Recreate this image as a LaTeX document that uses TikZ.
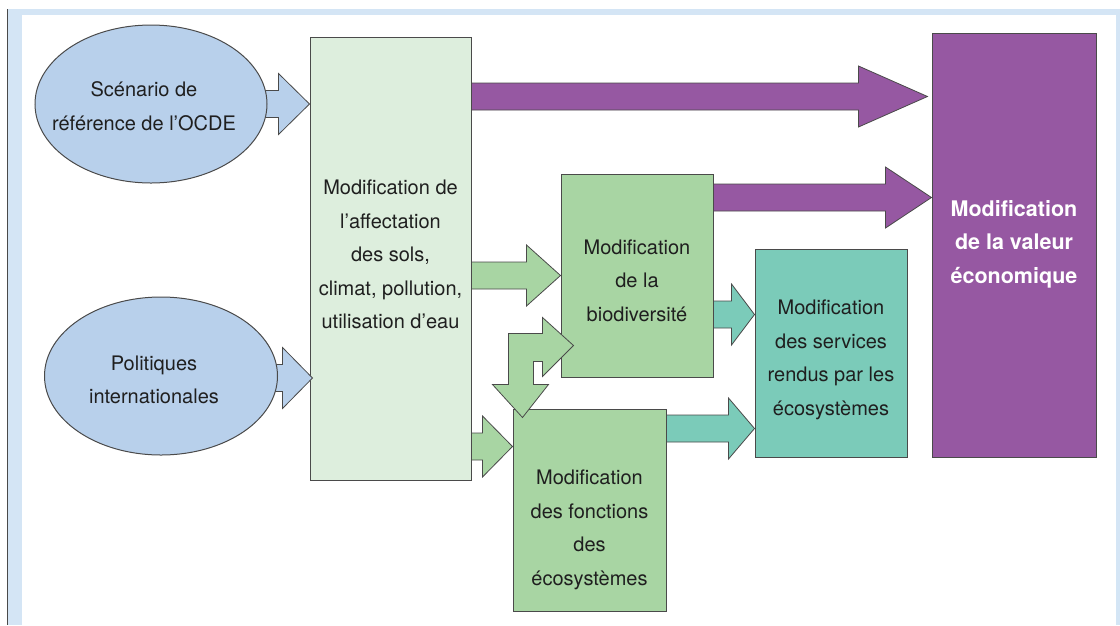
\documentclass[tikz,border=0pt]{standalone}
\usepackage{fontspec}
\setmainfont{TeX Gyre Heros}
\usetikzlibrary{shapes.geometric,calc}
\definecolor{framebg}{HTML}{D4E5F5}
\definecolor{ovalblue}{HTML}{B8D0EB}
\definecolor{palegreen}{HTML}{DDEEDD}
\definecolor{midgreen}{HTML}{A8D5A3}
\definecolor{seateal}{HTML}{7BCBB9}
\definecolor{plum}{HTML}{9658A2}
\definecolor{linegray}{HTML}{4A4A4A}
\definecolor{ink}{HTML}{1F1F1F}
\tikzset{
	txt/.style={inner sep=0pt, text=ink, align=center, font=\fontsize{20}{33.5}\selectfont},
	box/.style={txt, draw=linegray, line width=1pt},
	oval/.style={draw=linegray, line width=1pt, ellipse, inner sep=0pt, fill=ovalblue},
	fat/.style={draw=linegray, line width=0.8pt},
}
\newcommand{\fatarrow}[4]{\draw[fat,fill=#1] let \p1=#2, \p2=#3 in
	(\x1,\y1+13.5pt) -- (\x2-#4,\y1+13.5pt) -- (\x2-#4,\y1+30.5pt) -- (\x2,\y1) -- (\x2-#4,\y1-30.5pt) -- (\x2-#4,\y1-13.5pt) -- (\x1,\y1-13.5pt) -- cycle;}
\begin{document}
\begin{tikzpicture}[x=1pt,y=-1pt]
	\useasboundingbox (0,0) rectangle (1120,625);
	\fill[framebg] (8,9) rectangle (1120,625);
	\fill[white] (22,15) rectangle (1116,625);
	\draw[linegray, line width=1.5pt] (7.5,9) -- (7.5,625);
	\node[box, fill=palegreen, minimum width=161pt, minimum height=443pt] (affect) at (390.5,258.5) {};
	\node[txt] (affecttxt) at ($(affect.center)+(0,-4)$) {Modification de\\l’affectation\\des sols,\\climat, pollution,\\utilisation d’eau};
	\node[box, fill=midgreen, minimum width=152pt, minimum height=203pt] (biodiv) at (637,275.5) {};
	\node[txt] (biodivtxt) at ($(biodiv.center)+(0,5)$) {Modification\\de la\\biodiversité};
	\node[box, fill=midgreen, minimum width=153pt, minimum height=202pt] (fonct) at (589.5,510) {};
	\node[txt] (foncttxt) at ($(fonct.center)+(0,20)$) {Modification\\des fonctions\\des\\écosystèmes};
	\node[box, fill=seateal, minimum width=152pt, minimum height=208pt] (services) at (831,353) {};
	\node[txt] (servicestxt) at ($(services.center)+(0,7)$) {Modification\\des services\\rendus par les\\écosystèmes};
	\node[box, fill=plum, minimum width=164pt, minimum height=424pt] (valeur) at (1014,245) {};
	\node[txt, text=white, font=\bfseries\fontsize{21.5}{33.5}\selectfont] (valeurtxt) at ($(valeur.center)+(0,-1)$) {Modification\\de la valeur\\économique};
	\coordinate (scenc) at (151,104);
	\coordinate (polc) at (161,376);
	\fatarrow{ovalblue}{($(scenc)+(100,0)$)}{(scenc -| affect.west)}{31pt}
	\fatarrow{ovalblue}{($(polc)+(100,2)$)}{($(polc -| affect.west)+(3,2)$)}{30pt}
	\node[oval, minimum width=232pt, minimum height=158pt] (scen) at (scenc) {};
	\node[txt] (scentxt) at ($(scen.center)+(-7,2)$) {Scénario de\\référence de l’OCDE};
	\node[oval, minimum width=233pt, minimum height=158pt] (pol) at (polc) {};
	\node[txt] (poltxt) at ($(pol.center)+(-7,4)$) {Politiques\\internationales};
	\fatarrow{plum}{($(affect.north east)+(0,60)$)}{($(affect.north east -| valeur.west)+(-4,60)$)}{69pt}
	\fatarrow{plum}{($(biodiv.north east)+(0,24)$)}{($(biodiv.north east -| valeur.west)+(0,24)$)}{46pt}
	\fatarrow{midgreen}{(affect.east |- biodiv.west)}{(biodiv.west)}{34pt}
	\fatarrow{midgreen}{($(affect.south east)+(0,-34)$)}{($(affect.south east -| fonct.west)+(0,-34)$)}{30pt}
	\fatarrow{seateal}{($(biodiv.north east)+(0,141)$)}{($(services.north west)+(0,66)$)}{23pt}
	\fatarrow{seateal}{($(fonct.north east)+(0,20)$)}{($(fonct.north east -| services.west)+(0,20)$)}{26pt}
	\coordinate (bend) at ($(fonct.north west)+(-4,-75)$);
	\draw[fat, fill=midgreen] (bend) -- ++(34,0) -- ++(0,-16) -- ++(31,28) -- ++(-31,31) -- ++(0,-15) -- ++(-9,0) -- ++(0,23) -- ++(15,0) -- ++(-26,33) -- ++(-30,-33) -- ++(16,0) -- cycle;
\end{tikzpicture}
\end{document}
